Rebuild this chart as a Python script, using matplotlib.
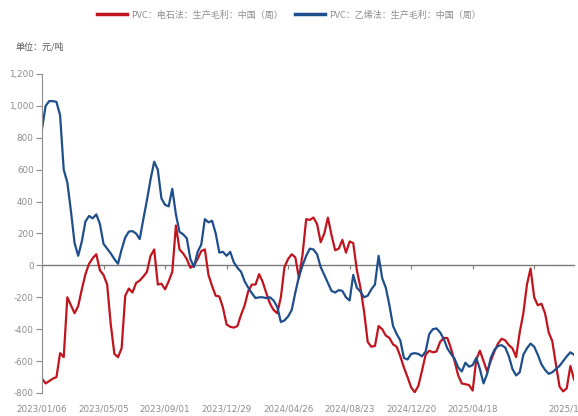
import matplotlib
matplotlib.use("Agg")
import matplotlib.pyplot as plt
import matplotlib.ticker as mticker
from matplotlib import font_manager
import pandas as pd

# weekly data, 2023/01/06 .. 2025/10/31
start_date = "2023-01-06"
n_weeks = 148

carbide = [
    -710, -740, -725, -710, -700, -550, -575, -200, -250, -300,
    -255, -150, -55, 10, 45, 70, -30, -60, -120, -370,
    -555, -575, -520, -190, -145, -170, -110, -95, -70, -40,
    60, 100, -120, -115, -150, -100, -40, 250, 100, 75,
    40, -15, 0, 40, 90, 100, -60, -130, -190, -195,
    -265, -370, -385, -390, -380, -310, -250, -160, -120, -120,
    -55, -105, -175, -240, -280, -300, -200, -10, 40, 70,
    50, -80, 70, 290, 285, 300, 260, 145, 200, 300,
    190, 95, 105, 160, 80, 150, 140, -30, -140, -290,
    -480, -510, -505, -380, -400, -440, -455, -495, -510, -570,
    -640, -700, -765, -795, -755, -660, -560, -535, -545, -540,
    -480, -455, -455, -520, -600, -690, -740, -745, -750, -785,
    -590, -535, -600, -665, -600, -540, -490, -460, -470, -500,
    -520, -575, -420, -300, -120, -20, -200, -250, -240, -300,
    -420, -475, -620, -760, -790, -770, -630, -715,
]

ethylene = [
    856, 1000, 1030, 1030, 1025, 940, 600, 520, 340, 140,
    60, 150, 275, 310, 295, 320, 260, 135, 105, 75,
    40, 10, 100, 175, 212, 215, 200, 165, 290, 410,
    540, 650, 600, 420, 380, 370, 480, 320, 210, 195,
    170, 40, -10, 85, 130, 290, 270, 280, 200, 80,
    85, 60, 85, 20, -15, -40, -100, -140, -175, -205,
    -200, -200, -205, -200, -220, -260, -355, -345, -320, -280,
    -170, -70, 0, 60, 105, 100, 70, -10, -60, -110,
    -160, -170, -155, -160, -200, -220, -60, -140, -165, -200,
    -190, -150, -120, 60, -80, -140, -250, -380, -430, -470,
    -580, -590, -555, -550, -555, -570, -540, -430, -400, -395,
    -420, -460, -520, -555, -585, -640, -665, -610, -635, -625,
    -580, -650, -740, -680, -580, -530, -505, -500, -515, -570,
    -650, -690, -670, -560, -520, -490, -510, -560, -620, -655,
    -680, -670, -650, -630, -600, -570, -545, -560,
]

labels = [
    "PVC\uff1a\u7535\u77f3\u6cd5\uff1a\u751f\u4ea7\u6bdb\u5229\uff1a\u4e2d\u56fd\uff08\u5468\uff09",
    "PVC\uff1a\u4e59\u70ef\u6cd5\uff1a\u751f\u4ea7\u6bdb\u5229\uff1a\u4e2d\u56fd\uff08\u5468\uff09",
]
unit_text = "\u5355\u4f4d\uff1a\u5143/\u5428"
yticks = list(range(-800, 1201, 200))

dates = pd.date_range(start_date, periods=n_weeks, freq="7D")

installed = {f.name for f in font_manager.fontManager.ttflist}
if "Liberation Sans Narrow" in installed:
    num_font, num_size = "Liberation Sans Narrow", 8
else:
    num_font, num_size = "DejaVu Sans", 6.3
cjk = ["Noto Sans CJK SC", "DejaVu Sans"]
grey = "#8c8c8c"

fig = plt.figure(figsize=(5.78, 4.16), dpi=100)
ax = fig.add_axes([42 / 578, 1 - 393 / 416, (574 - 42) / 578, (393 - 74) / 416])

ax.plot(dates, carbide, color="#c0141e", lw=1.6, label=labels[0])
ax.plot(dates, ethylene, color="#1f4e8c", lw=1.6, label=labels[1])

ax.set_xlim(dates[0], dates[-1])
ax.set_ylim(-800, 1200)
ax.set_yticks(yticks)
ax.yaxis.set_major_formatter(mticker.FuncFormatter(lambda v, p: f"{int(v):,}"))

for s in ["top", "right", "bottom"]:
    ax.spines[s].set_visible(False)
ax.spines["left"].set_color(grey)
ax.spines["left"].set_linewidth(0.8)
ax.tick_params(axis="y", direction="out", length=4, width=0.8, color=grey,
               labelcolor=grey, labelsize=num_size, pad=2)

label_dates = list(dates[0:120:17]) + [dates[-1]]
ax.set_xticks(label_dates)
ax.set_xticklabels([d.strftime("%Y/%m/%d") for d in label_dates])
ax.tick_params(axis="x", length=0, labelcolor=grey, labelsize=num_size, pad=8)
for t in ax.get_xticklabels() + ax.get_yticklabels():
    t.set_fontfamily(num_font)

# zero line with its own tick marks
zero = ax.secondary_xaxis(0.4)
zero.set_xticks(list(dates[0:137:17]))
zero.set_xticklabels([])
zero.spines["bottom"].set_color("#7a7a7a")
zero.spines["bottom"].set_linewidth(1.0)
zero.tick_params(axis="x", direction="out", length=3, width=0.8, color="#7a7a7a")

fig.legend(loc="center", bbox_to_anchor=(0.5, 1 - 15 / 416), ncol=2, frameon=False,
           prop={"family": cjk, "size": 6.5}, labelcolor=grey,
           handlelength=3.3, handletextpad=0.45, columnspacing=1.4)
for line in fig.legends[0].get_lines():
    line.set_linewidth(2.5)

fig.text(15 / 578, 1 - 47 / 416, unit_text, fontsize=6.5, family=cjk,
         color="#555555", ha="left", va="center")

fig.savefig("out.png", dpi=100)
